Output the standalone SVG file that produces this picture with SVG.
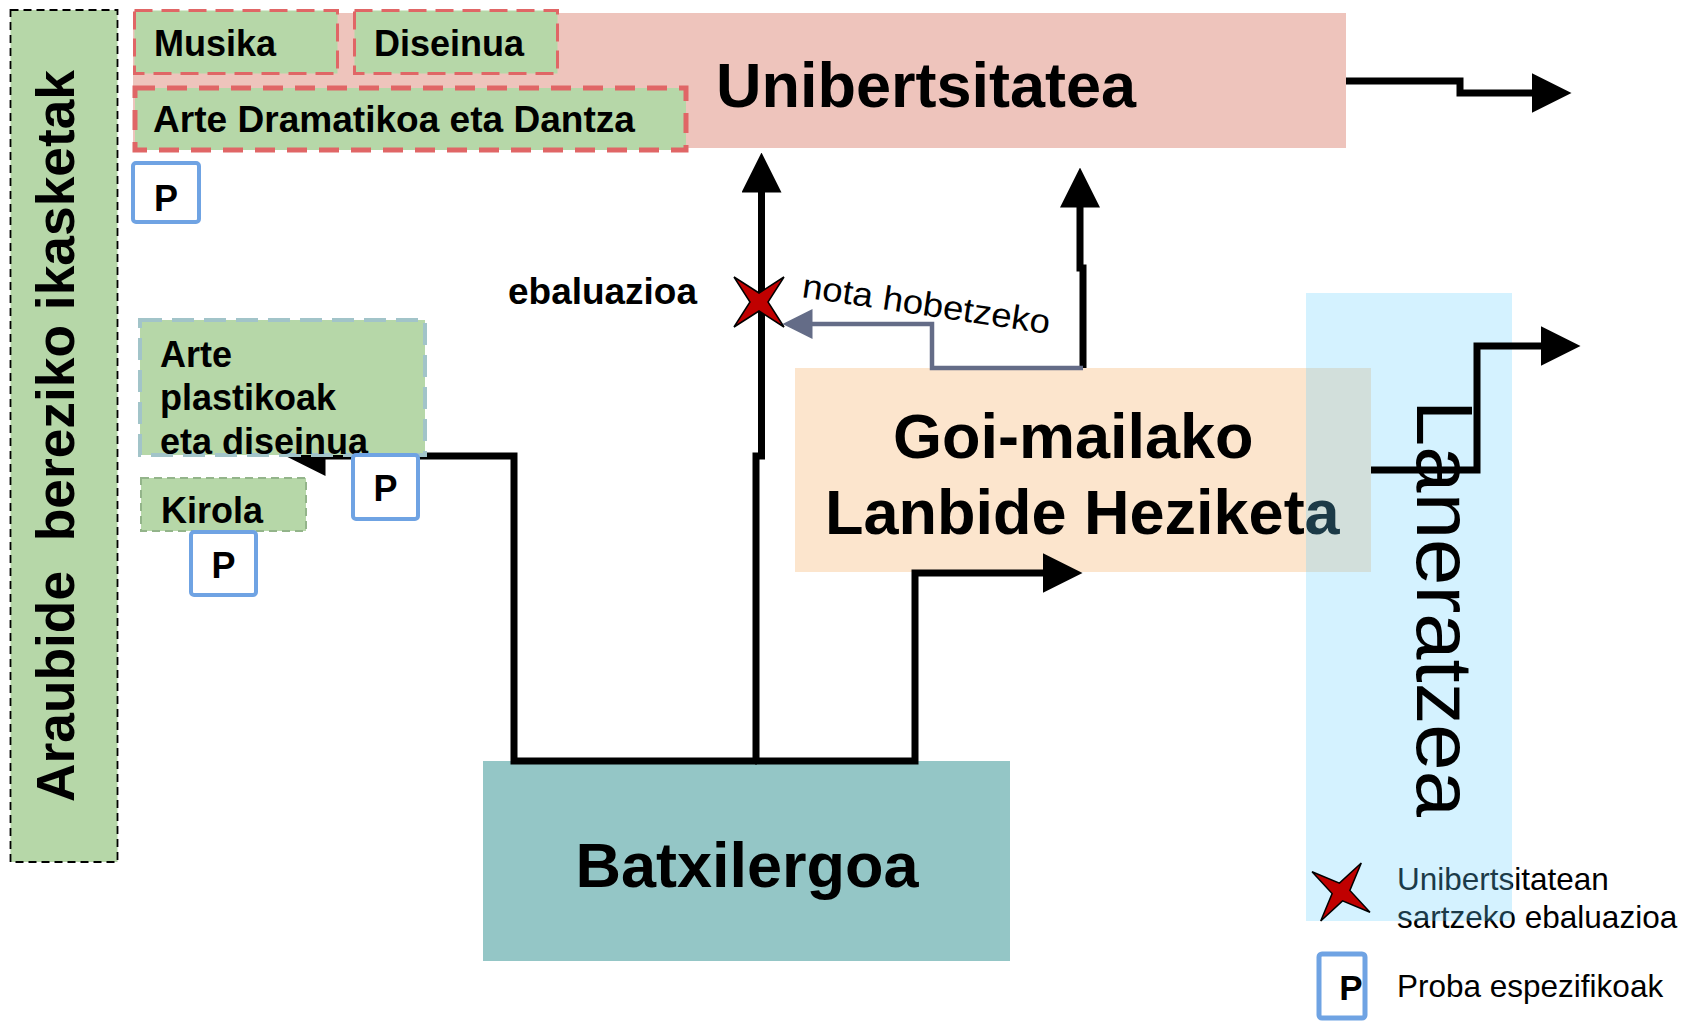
<svg xmlns="http://www.w3.org/2000/svg" width="1685" height="1021" viewBox="0 0 1685 1021">
<defs>
<style>
.b{font-family:"Liberation Sans",Arial,Helvetica,sans-serif;font-weight:bold;fill:#000}
.r{font-family:"Liberation Sans",Arial,Helvetica,sans-serif;fill:#000}
.red{fill:#b6d7a8;stroke:#e06666;stroke-width:3;stroke-dasharray:18 9}
.pbox{fill:#fff;stroke:#6fa3e3;stroke-width:4}
.c{fill:none;stroke:#000;stroke-width:7;stroke-linejoin:miter}
.cg{fill:none;stroke:#646c87;stroke-width:4.5;stroke-linejoin:miter}
.star{fill:#c00000;stroke:#000;stroke-width:1.5;stroke-linejoin:miter}
</style>
<marker id="ah" markerUnits="userSpaceOnUse" viewBox="0 0 40 40" markerWidth="40" markerHeight="40" refX="0.5" refY="20" orient="auto"><path d="M0,0 L40,20 L0,40 Z" fill="#000"/></marker>
<marker id="ahg" markerUnits="userSpaceOnUse" viewBox="0 0 30 30" markerWidth="30" markerHeight="30" refX="0.5" refY="15" orient="auto"><path d="M0,0 L30,15 L0,30 Z" fill="#646c87"/></marker>
<path id="star" d="M-25,-25 L0,-9 L25,-25 L9,0 L25,25 L0,9 L-25,25 L-9,0 Z"/>
</defs>
<rect width="1685" height="1021" fill="#fff"/>

<g id="araubide">
<rect x="10.5" y="10" width="107" height="852" fill="#b6d7a8" stroke="#000" stroke-width="1.8" stroke-dasharray="8 5"/>
<text class="b" font-size="54" transform="translate(74,802) rotate(-90)" textLength="732" lengthAdjust="spacingAndGlyphs" xml:space="preserve">Araubide  bereziko ikasketak</text>
</g>

<g id="unibertsitatea">
<rect x="133" y="13" width="1213" height="135" fill="#eec4bc"/>
<text class="b" x="716" y="107" font-size="63">Unibertsitatea</text>
</g>

<g id="musika">
<rect class="red" x="134.5" y="10.5" width="203" height="63"/>
<text class="b" x="154" y="56" font-size="36">Musika</text>
</g>
<g id="diseinua">
<rect class="red" x="354.5" y="10.5" width="203" height="63"/>
<text class="b" x="374" y="56" font-size="36">Diseinua</text>
</g>
<g id="arte-dramatikoa">
<rect x="135" y="88" width="551" height="62" fill="#b6d7a8" stroke="#e06666" stroke-width="5" stroke-dasharray="20 12"/>
<text class="b" x="153" y="132" font-size="36" textLength="482" lengthAdjust="spacingAndGlyphs">Arte Dramatikoa eta Dantza</text>
</g>

<g id="batxilergoa">
<rect x="483" y="761" width="527" height="200" fill="#94c6c6"/>
<text class="b" x="747" y="887" font-size="63" text-anchor="middle">Batxilergoa</text>
</g>

<g id="goi-mailako">
<rect x="795" y="368" width="576" height="204" fill="#fce5cd"/>
<text class="b" x="893" y="458" font-size="63">Goi-mailako</text>
<text class="b" x="825" y="534" font-size="63">Lanbide Heziketa</text>
</g>

<g id="legend-text">
<text class="r" x="1397" y="890" font-size="31.5">Unibertsitatean</text>
<text class="r" x="1397" y="928" font-size="31.5">sartzeko ebaluazioa</text>
<text class="r" x="1397" y="997" font-size="31.5">Proba espezifikoak</text>
</g>

<g id="laneratzea">
<rect x="1306" y="293" width="206" height="628" fill="#64cfff" fill-opacity="0.28"/>
<text class="r" font-size="80" transform="translate(1417,400) rotate(90)" textLength="417" lengthAdjust="spacingAndGlyphs">Laneratzea</text>
</g>

<g id="connectors">
<path class="c" d="M757 761 H514 V456 H325" marker-end="url(#ah)"/>
<path class="c" d="M756 764 V456 H761.5 V192" marker-end="url(#ah)"/>
<path class="c" d="M755 761 H915 V573 H1043" marker-end="url(#ah)"/>
<path class="c" d="M1083 368 V268 H1080 V207" marker-end="url(#ah)"/>
<path class="c" d="M1371 470 H1477 V346 H1541" marker-end="url(#ah)"/>
<path class="c" d="M1346 81 H1460 V93 H1532" marker-end="url(#ah)"/>
<path class="cg" d="M1083 368 H932 V324 H812" marker-end="url(#ahg)"/>
<text class="b" x="508" y="304" font-size="36" textLength="189" lengthAdjust="spacingAndGlyphs">ebaluazioa</text>
<text class="r" font-size="34" transform="translate(801,297) rotate(8.5)" textLength="250" lengthAdjust="spacingAndGlyphs">nota hobetzeko</text>
</g>

<g id="arte-plastikoak">
<rect x="140" y="320" width="285" height="135" fill="#b6d7a8" stroke="#a2c4c9" stroke-width="4" stroke-dasharray="22 10"/>
<text class="b" x="160" y="367" font-size="36">Arte</text>
<text class="b" x="160" y="410" font-size="36">plastikoak</text>
<text class="b" x="160" y="454" font-size="36">eta diseinua</text>
</g>

<g id="kirola">
<rect x="141" y="478" width="165" height="53" fill="#b6d7a8" stroke="#93b48a" stroke-width="2" stroke-dasharray="8 5"/>
<text class="b" x="161" y="523" font-size="36">Kirola</text>
</g>

<g id="p-arte-dramatikoa">
<rect class="pbox" x="133" y="163" width="66" height="59" rx="3"/>
<text class="b" x="166" y="211" font-size="36" text-anchor="middle">P</text>
</g>
<g id="p-arte-plastikoak">
<rect class="pbox" x="353" y="455" width="65" height="64" rx="3"/>
<text class="b" x="385.5" y="501" font-size="36" text-anchor="middle">P</text>
</g>
<g id="p-kirola">
<rect class="pbox" x="191" y="532" width="65" height="63" rx="3"/>
<text class="b" x="223.5" y="578" font-size="36" text-anchor="middle">P</text>
</g>

<g id="star-ebaluazioa">
<use href="#star" class="star" transform="translate(759,302)"/>
</g>

<g id="legend">
<use href="#star" class="star" transform="translate(1341,892) rotate(-10)"/>
<rect x="1319" y="954" width="46" height="64" rx="3" fill="#fff" stroke="#6fa3e3" stroke-width="5"/>
<text class="b" x="1351" y="1000" font-size="35" text-anchor="middle">P</text>
</g>
</svg>
